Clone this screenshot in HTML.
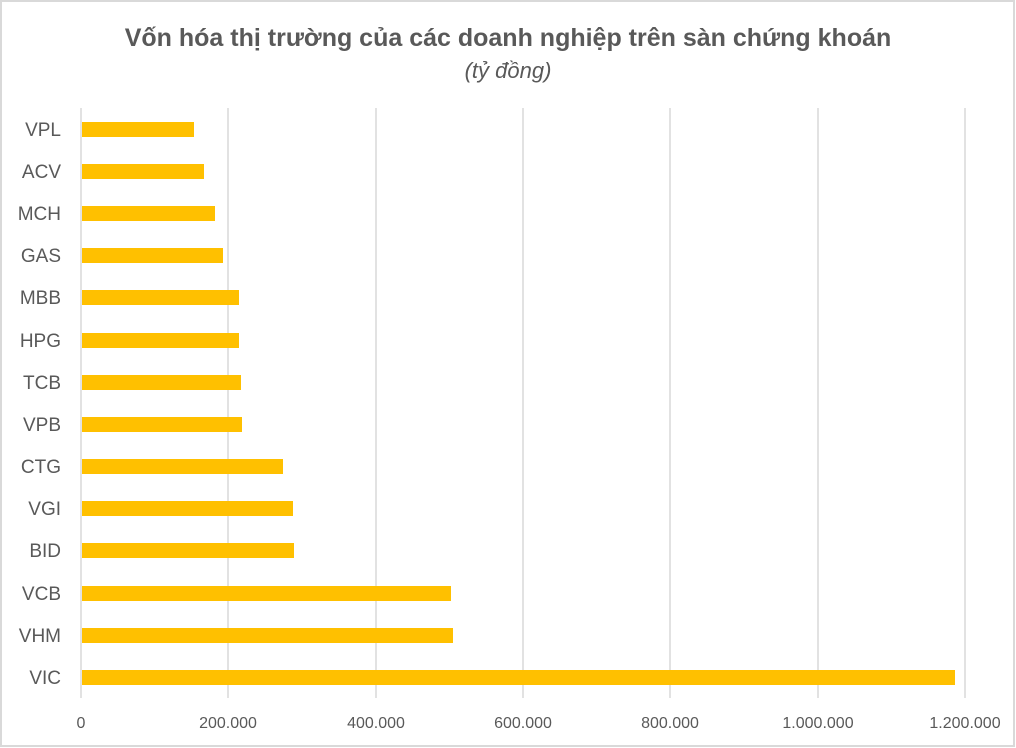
<!DOCTYPE html><html><head><meta charset="utf-8"><style>
body{margin:0;background:#fff}
svg{display:block;font-family:"Liberation Sans",sans-serif}
</style></head><body>
<svg width="1016" height="748" xmlns="http://www.w3.org/2000/svg">
<rect x="1" y="1" width="1013" height="745" fill="#fff" stroke="#d9d9d9" stroke-width="2"/>
<text x="508" y="46" text-anchor="middle" font-size="25" font-weight="bold" fill="#595959">Vốn hóa thị trường của các doanh nghiệp trên sàn chứng khoán</text>
<text x="508" y="78" text-anchor="middle" font-size="22" font-style="italic" fill="#595959">(tỷ đồng)</text>
<g stroke="#d9d9d9" stroke-width="1.5">
<line x1="81" y1="108" x2="81" y2="698"/><line x1="228" y1="108" x2="228" y2="698"/><line x1="376" y1="108" x2="376" y2="698"/><line x1="523" y1="108" x2="523" y2="698"/><line x1="670" y1="108" x2="670" y2="698"/><line x1="818" y1="108" x2="818" y2="698"/><line x1="965" y1="108" x2="965" y2="698"/>
</g>
<g fill="#ffc000">
<rect x="82" y="122" width="112" height="15"/>
<rect x="82" y="164" width="122" height="15"/>
<rect x="82" y="206" width="133" height="15"/>
<rect x="82" y="248" width="141" height="15"/>
<rect x="82" y="290" width="157" height="15"/>
<rect x="82" y="333" width="157" height="15"/>
<rect x="82" y="375" width="159" height="15"/>
<rect x="82" y="417" width="160" height="15"/>
<rect x="82" y="459" width="201" height="15"/>
<rect x="82" y="501" width="211" height="15"/>
<rect x="82" y="543" width="212" height="15"/>
<rect x="82" y="586" width="369" height="15"/>
<rect x="82" y="628" width="371" height="15"/>
<rect x="82" y="670" width="873" height="15"/>
</g>
<g font-size="19" fill="#595959" text-anchor="end">
<text x="61" y="136">VPL</text><text x="61" y="178">ACV</text><text x="61" y="220">MCH</text><text x="61" y="262">GAS</text><text x="61" y="304">MBB</text><text x="61" y="347">HPG</text><text x="61" y="389">TCB</text><text x="61" y="431">VPB</text><text x="61" y="473">CTG</text><text x="61" y="515">VGI</text><text x="61" y="557">BID</text><text x="61" y="600">VCB</text><text x="61" y="642">VHM</text><text x="61" y="684">VIC</text>
</g>
<g font-size="16" fill="#595959" text-anchor="middle">
<text x="81" y="728">0</text><text x="228" y="728">200.000</text><text x="376" y="728">400.000</text><text x="523" y="728">600.000</text><text x="670" y="728">800.000</text><text x="818" y="728">1.000.000</text><text x="965" y="728">1.200.000</text>
</g>
</svg>
</body></html>
